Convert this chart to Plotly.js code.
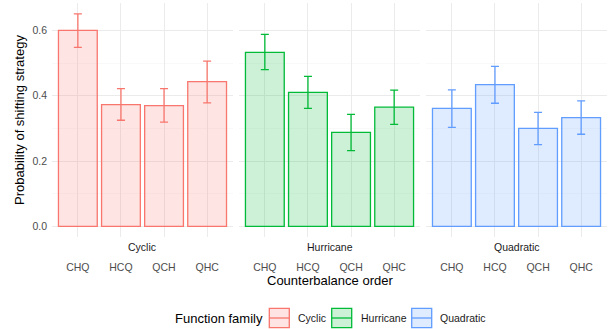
<!DOCTYPE html>
<html><head><meta charset="utf-8">
<script src="https://cdn.plot.ly/plotly-3.0.1.min.js"></script>
<style>html,body{margin:0;padding:0;background:#fff}#chart{width:608px;height:329px}</style>
</head><body><div id="chart"></div>
<script>
const orders = ["CHQ","HCQ","QCH","QHC"];
const families = ["Cyclic","Hurricane","Quadratic"];
const colors = ["#F8766D","#00BA38","#619CFF"];
const fills = ["rgba(248,118,109,0.2)","rgba(0,186,56,0.2)","rgba(97,156,255,0.2)"];
const cyclicMean = [0.600,0.373,0.370,0.443];
const cyclicUpper = [0.651,0.422,0.422,0.506];
const cyclicLower = [0.548,0.325,0.319,0.378];
const hurricaneMean = [0.533,0.410,0.288,0.365];
const hurricaneUpper = [0.588,0.459,0.343,0.417];
const hurricaneLower = [0.480,0.361,0.232,0.312];
const quadraticMean = [0.361,0.434,0.300,0.333];
const quadraticUpper = [0.418,0.490,0.349,0.384];
const quadraticLower = [0.303,0.377,0.250,0.282];
const yTicks = [0,0.2,0.4,0.6];
const yTickText = ["0.0","0.2","0.4","0.6"];

const means=[cyclicMean,hurricaneMean,quadraticMean];
const ups=[cyclicUpper,hurricaneUpper,quadraticUpper];
const lows=[cyclicLower,hurricaneLower,quadraticLower];
const FONT="Liberation Sans, Arial, sans-serif";
const traces=families.map((f,i)=>({
  type:"bar", name:f, x:orders, y:means[i], width:0.9,
  xaxis: i===0?"x":"x"+(i+1), yaxis: i===0?"y":"y"+(i+1),
  marker:{color:fills[i], line:{color:colors[i], width:1.3}},
  error_y:{type:"data", symmetric:false,
    array:ups[i].map((u,k)=>u-means[i][k]),
    arrayminus:means[i].map((m,k)=>m-lows[i][k]),
    color:colors[i], thickness:1.3, width:4},
  hoverinfo:"none", showlegend:false
}));
const doms=[[0,0.3261],[0.3369,0.6631],[0.6739,1]];
// pixel helpers for layout (plot area: x 52..607, y 3..237)
const px=(x)=>(x-52)/555, py=(y)=>(237-y)/234;
const layout={
  width:608,height:329,
  margin:{l:52,r:1,t:3,b:92,autoexpand:false},
  paper_bgcolor:"#fff",plot_bgcolor:"#fff",
  font:{family:FONT,size:11,color:"#4D4D4D"},
  showlegend:false,
  annotations:[], shapes:[],
};
for(let i=0;i<3;i++){
  const xs=i===0?"xaxis":"xaxis"+(i+1);
  const ys=i===0?"yaxis":"yaxis"+(i+1);
  layout[xs]={domain:doms[i],anchor:i===0?"y":"y"+(i+1),type:"category",
    categoryorder:"array",categoryarray:orders,range:[-0.6,3.6],
    showgrid:true,gridcolor:"#EBEBEB",gridwidth:1,zeroline:false,showline:false,
    ticks:"",tickfont:{family:FONT,size:10.5,color:"#4D4D4D"},ticklabelstandoff:22,fixedrange:true};
  layout[ys]={domain:[0,1],anchor:i===0?"x":"x"+(i+1),range:[-0.0326,0.684],
    tickvals:yTicks,ticktext:yTickText,showticklabels:i===0,
    showgrid:true,gridcolor:"#EBEBEB",gridwidth:1,zeroline:false,showline:false,ticks:"",
    minor:{dtick:0.1,tick0:0,showgrid:true,gridcolor:"#F5F5F5",gridwidth:0.6},
    tickfont:{family:FONT,size:10.5,color:"#4D4D4D"},ticklabelstandoff:4};
  layout.annotations.push({text:families[i],xref:(i===0?"x":"x"+(i+1))+" domain",x:0.5,
    yref:"paper",y:py(246.7),yanchor:"middle",xanchor:"center",showarrow:false,
    font:{family:FONT,size:10.5,color:"#1A1A1A"}});
}
layout.yaxis.title={text:"Probability of shifting strategy",standoff:4,font:{family:FONT,size:13,color:"#000"}};
layout.annotations.push({text:"Counterbalance order",xref:"paper",x:0.5,yref:"paper",y:py(280.7),
  yanchor:"middle",xanchor:"center",showarrow:false,font:{family:FONT,size:13,color:"#000"}});
// legend (ggplot style keys)
const legendTitle="Function family";
const keyX=[269.3,331.7,411.7], textX=[296.3,358.5,437.5];
layout.annotations.push({text:legendTitle,xref:"paper",x:px(173),yref:"paper",y:py(318),
  xanchor:"left",yanchor:"middle",showarrow:false,font:{family:FONT,size:13,color:"#000"}});
families.forEach((f,i)=>{
  layout.shapes.push({type:"rect",xref:"paper",yref:"paper",x0:px(keyX[i]),x1:px(keyX[i]+20),
    y0:py(327.7),y1:py(308.3),fillcolor:fills[i],line:{color:colors[i],width:1.3}});
  layout.shapes.push({type:"line",xref:"paper",yref:"paper",x0:px(keyX[i]),x1:px(keyX[i]+20),
    y0:py(318),y1:py(318),line:{color:colors[i],width:1.3}});
  layout.annotations.push({text:f,xref:"paper",x:px(textX[i]),yref:"paper",y:py(318),
    xanchor:"left",yanchor:"middle",showarrow:false,font:{family:FONT,size:10.5,color:"#1A1A1A"}});
});
Plotly.newPlot("chart",traces,layout,{displayModeBar:false,staticPlot:true});
</script></body></html>
